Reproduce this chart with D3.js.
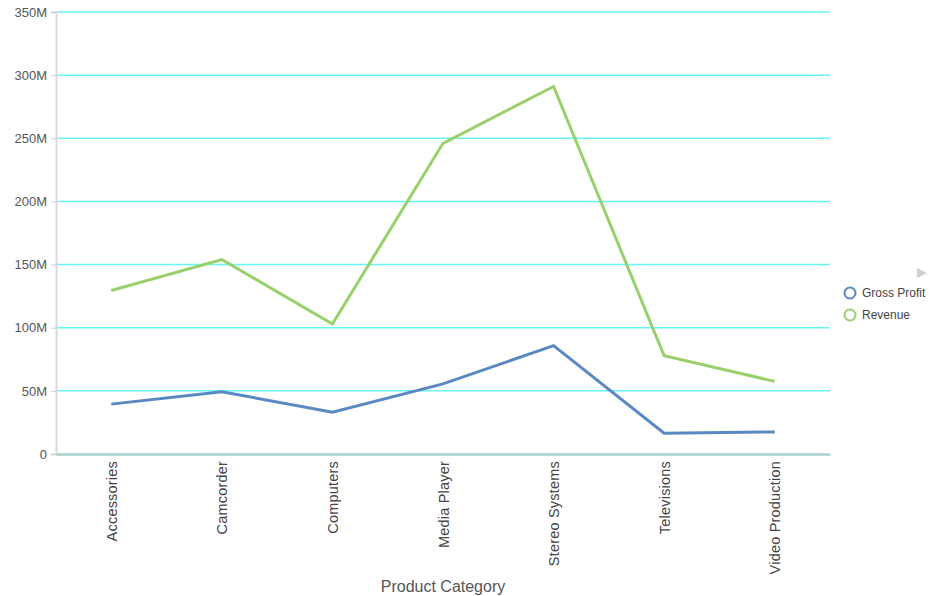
<!DOCTYPE html>
<html><head><meta charset="utf-8">
<script src="https://cdn.jsdelivr.net/npm/d3@7"></script>
<style>body{margin:0;background:#fff;font-family:"Liberation Sans",Arial,sans-serif;}</style>
</head><body><svg id="c" width="932" height="596"></svg>
<script>
const categories = ["Accessories","Camcorder","Computers","Media Player","Stereo Systems","Televisions","Video Production"];
const grossProfit = [39.5e6, 49.3e6, 33e6, 55.5e6, 85.8e6, 16.5e6, 17.5e6];
const revenue = [129.5e6, 154e6, 103e6, 246e6, 291e6, 77.8e6, 57.5e6];
const yTicks = [0, 50e6, 100e6, 150e6, 200e6, 250e6, 300e6, 350e6];
const seriesNames = ["Gross Profit", "Revenue"];
const seriesColors = ["#5a88c2", "#98d06c"];

const svg = d3.select("#c");
const L = 56, R = 830, T = 12, B = 454;
const x = d3.scalePoint().domain(categories).range([L, R]).padding(0.5);
const y = d3.scaleLinear().domain([0, 350e6]).range([B, T]);

// gridlines
svg.append("g").selectAll("line").data(yTicks.filter(d => d > 0)).join("line")
  .attr("x1", L).attr("x2", R).attr("y1", d => y(d)).attr("y2", d => y(d))
  .attr("stroke", "#66f5f5").attr("stroke-width", 1.5);

// y axis
const yAxis = svg.append("g").attr("transform", `translate(${L},0)`)
  .call(d3.axisLeft(y).tickValues(yTicks).tickSize(5).tickPadding(4)
    .tickFormat(d => d === 0 ? "0" : (d / 1e6) + "M"));
yAxis.select(".domain").attr("stroke", "#d9d9d9").attr("stroke-width", 2);
yAxis.selectAll(".tick line").attr("stroke", "#cfcfcf");
yAxis.selectAll("text").attr("fill", "#555").style("font-size", "13px")
  .style("font-family", "'Liberation Sans',Arial,sans-serif");

// x axis
const xAxis = svg.append("g").attr("transform", `translate(0,${B})`)
  .call(d3.axisBottom(x).tickSize(0).tickPadding(7));
xAxis.select(".domain").attr("stroke", "#aacfcf").attr("stroke-width", 2.5);
xAxis.selectAll("text").attr("fill", "#444").style("font-size", "14.5px")
  .style("letter-spacing", "0.2px")
  .style("font-family", "'Liberation Sans',Arial,sans-serif")
  .attr("transform", "rotate(-90)").attr("text-anchor", "end")
  .attr("x", -7).attr("y", 0).attr("dy", "0.35em");

// axis title
svg.append("text").attr("x", (L + R) / 2).attr("y", 592).attr("text-anchor", "middle")
  .attr("fill", "#555").style("font-size", "16px").text("Product Category");

// lines
const line = d3.line().x((d, i) => x(categories[i])).y(d => y(d));
[grossProfit, revenue].forEach((s, k) => {
  svg.append("path").datum(s).attr("d", line).attr("fill", "none")
    .attr("stroke", seriesColors[k]).attr("stroke-width", 3).attr("stroke-linejoin", "miter");
});

// legend
svg.append("path").attr("d", "M917,268 L927,273 L917,278 Z").attr("fill", "#cfcfcf");
const lg = svg.append("g").selectAll("g").data(seriesNames).join("g")
  .attr("transform", (d, i) => `translate(850,${293 + i * 22})`);
lg.append("circle").attr("r", 5.5).attr("fill", "none")
  .attr("stroke", (d, i) => seriesColors[i]).attr("stroke-width", 2);
lg.append("text").attr("x", 12).attr("dy", "0.35em").attr("fill", "#444")
  .style("font-size", "12px").text(d => d);
</script></body></html>
